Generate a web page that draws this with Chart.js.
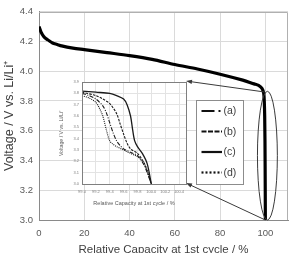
<!DOCTYPE html>
<html>
<head>
<meta charset="utf-8">
<script src="https://cdn.jsdelivr.net/npm/chart.js@4.4.0/dist/chart.umd.min.js"></script>
<style>
  html, body { margin: 0; padding: 0; overflow: hidden; background: #fff; }
  #wrap { position: relative; width: 290px; height: 253px; overflow: hidden; }
  #main { position: absolute; left: 0; top: 0; }
  #inset { position: absolute; left: 50px; top: 75px; }
</style>
</head>
<body>
<div id="wrap">
  <canvas id="main" width="290" height="262"></canvas>
  <canvas id="inset" width="145" height="135"></canvas>
</div>
<script>
// main discharge curve (all four overlap at this scale)
const mainCapacity = [0, 0.5, 1, 2, 3, 4, 6, 8, 10, 15, 20, 30, 40, 50, 60, 70, 80, 90, 95, 97, 98.5, 99.3, 99.7, 99.9, 100.0];
const mainVoltage = [4.30, 4.28, 4.26, 4.235, 4.22, 4.21, 4.19, 4.18, 4.17, 4.155, 4.145, 4.125, 4.105, 4.08, 4.045, 4.015, 3.98, 3.94, 3.915, 3.905, 3.885, 3.85, 3.70, 3.35, 3.0];

// inset: end of discharge, capacity 99.0 - 100.5 %
const seriesLabels = ['(a)', '(b)', '(c)', '(d)'];
const capA = [99.0, 99.1, 99.2, 99.3, 99.35, 99.4, 99.45, 99.5, 99.55, 99.6, 99.7, 99.8, 99.9, 100.0];
const voltA = [3.80, 3.78, 3.75, 3.69, 3.63, 3.54, 3.45, 3.38, 3.34, 3.31, 3.28, 3.25, 3.16, 3.0];
const capB = [99.0, 99.2, 99.3, 99.4, 99.5, 99.55, 99.6, 99.65, 99.7, 99.8, 99.9, 100.0];
const voltB = [3.81, 3.78, 3.75, 3.71, 3.62, 3.53, 3.44, 3.36, 3.31, 3.27, 3.18, 3.0];
const capC = [99.0, 99.2, 99.4, 99.5, 99.6, 99.65, 99.7, 99.73, 99.76, 99.8, 99.87, 99.94, 100.0];
const voltC = [3.82, 3.81, 3.80, 3.78, 3.75, 3.70, 3.60, 3.48, 3.38, 3.33, 3.27, 3.18, 3.0];
const capD = [99.0, 99.1, 99.2, 99.25, 99.3, 99.35, 99.4, 99.45, 99.5, 99.6, 99.7, 99.8, 99.9, 100.0];
const voltD = [3.78, 3.76, 3.72, 3.67, 3.60, 3.48, 3.38, 3.35, 3.33, 3.30, 3.27, 3.24, 3.18, 3.0];

const insetCaps = [capA, capB, capC, capD];
const insetVolts = [voltA, voltB, voltC, voltD];
const insetDash = [[4, 1.5, 1, 1.5], [2.5, 1.2], [], [1, 1]];
const legendDash = [[13, 4, 2, 4], [5, 1.5], [], [2, 2]];

const toPoints = (xs, ys) => xs.map((x, i) => ({ x: x, y: ys[i] }));

Chart.defaults.font.family = "'Liberation Sans', Arial, sans-serif";
Chart.defaults.animation = false;

const insetOffset = { left: 50, top: 75 };

// ---------- inset ----------
const insetFrame = {
  id: 'insetFrame',
  beforeDraw(chart) {
    const { ctx, chartArea: a } = chart;
    ctx.save();
    ctx.fillStyle = '#fff';
    ctx.fillRect(a.left, a.top, a.right - a.left, a.bottom - a.top);
    ctx.restore();
  },
  afterDraw(chart) {
    const { ctx, chartArea: a } = chart;
    ctx.save();
    ctx.strokeStyle = '#7f7f7f';
    ctx.lineWidth = 1;
    ctx.strokeRect(Math.round(a.left) + 0.5, Math.round(a.top) + 0.5, Math.round(a.right - a.left), Math.round(a.bottom - a.top));
    ctx.restore();
  }
};

const insetChart = new Chart(document.getElementById('inset'), {
  type: 'line',
  data: {
    datasets: seriesLabels.map((label, i) => ({
      label: label,
      data: toPoints(insetCaps[i], insetVolts[i]),
      borderColor: '#1a1a1a',
      borderWidth: i === 2 ? 1.3 : 1.1,
      borderDash: insetDash[i],
      pointRadius: 0,
      tension: 0.3,
      fill: false
    }))
  },
  options: {
    responsive: false,
    devicePixelRatio: 1,
    layout: { padding: { top: 7, right: 9, left: 0, bottom: 0 } },
    plugins: { legend: { display: false }, tooltip: { enabled: false } },
    scales: {
      x: {
        type: 'linear', min: 99.0, max: 100.5,
        afterFit(s) { s.height = 26; },
        grid: { color: '#e3e3e3', drawTicks: false },
        border: { display: false },
        ticks: { stepSize: 0.2, includeBounds: false, padding: 5, color: '#7f7f7f', font: { size: 4 },
          maxRotation: 0, autoSkip: false, callback: v => v.toFixed(1) },
        title: { display: true, text: 'Relative Capacity at 1st cycle / %', color: '#595959',
          font: { size: 5.5 }, padding: { top: 0, bottom: 3.7 } }
      },
      y: {
        min: 3.0, max: 3.9,
        afterFit(s) { s.width = 32; },
        grid: { color: '#e3e3e3', drawTicks: false },
        border: { display: false },
        ticks: { stepSize: 0.1, padding: 3, color: '#7f7f7f', font: { size: 4 }, callback: v => v.toFixed(1) },
        title: { display: true, text: 'Voltage / V vs. Li/Li⁺', color: '#595959',
          font: { size: 5.2 }, padding: { top: 8.9, bottom: 0 } }
      }
    }
  },
  plugins: [insetFrame]
});

// ---------- main ----------
const mainFrame = {
  id: 'mainFrame',
  afterDraw(chart) {
    const { ctx, chartArea: a } = chart;
    ctx.save();
    ctx.strokeStyle = '#b0b0b0';
    ctx.lineWidth = 1;
    ctx.beginPath();
    ctx.moveTo(Math.round(a.left), Math.round(a.top) + 0.5);
    ctx.lineTo(Math.round(a.right) - 0.5, Math.round(a.top) + 0.5);
    ctx.lineTo(Math.round(a.right) - 0.5, Math.round(a.bottom));
    ctx.stroke();
    ctx.restore();
  }
};

function arrow(ctx, x1, y1, x2, y2) {
  const ang = Math.atan2(y2 - y1, x2 - x1);
  const len = 6, w = 2.2;
  ctx.beginPath();
  ctx.moveTo(x1, y1);
  ctx.lineTo(x2 - Math.cos(ang) * len * 0.8, y2 - Math.sin(ang) * len * 0.8);
  ctx.stroke();
  ctx.beginPath();
  ctx.moveTo(x2, y2);
  ctx.lineTo(x2 - Math.cos(ang) * len - Math.sin(ang) * w, y2 - Math.sin(ang) * len + Math.cos(ang) * w);
  ctx.lineTo(x2 - Math.cos(ang) * len + Math.sin(ang) * w, y2 - Math.sin(ang) * len - Math.cos(ang) * w);
  ctx.closePath();
  ctx.fill();
}

const callouts = {
  id: 'callouts',
  afterDatasetsDraw(chart) {
    const { ctx, scales: { x, y } } = chart;
    const ia = insetChart.chartArea;
    ctx.save();
    ctx.strokeStyle = '#3a3a3a';
    ctx.fillStyle = '#3a3a3a';
    ctx.lineWidth = 1;
    // ellipse around the end of discharge
    const cx = x.getPixelForValue(100.9);
    const cy = (y.getPixelForValue(3.865) + y.getPixelForValue(3.0)) / 2;
    const ry = (y.getPixelForValue(3.0) - y.getPixelForValue(3.865)) / 2;
    const rx = x.getPixelForValue(105.3) - cx;
    ctx.beginPath();
    ctx.ellipse(cx, cy, rx, ry, 0, 0, Math.PI * 2);
    ctx.stroke();
    // arrows to the inset
    const tipX = insetOffset.left + ia.right;
    arrow(ctx, x.getPixelForValue(99.8), y.getPixelForValue(3.86), tipX, insetOffset.top + ia.top - 1);
    arrow(ctx, x.getPixelForValue(100), y.getPixelForValue(3.0), tipX, insetOffset.top + ia.bottom - 1);
    ctx.restore();
  },
  afterDraw(chart) {
    // legend box for the inset series
    const { ctx } = chart;
    const bx = 196.5, by = 100.5, bw = 47, bh = 84;
    ctx.save();
    ctx.fillStyle = '#fff';
    ctx.fillRect(bx, by, bw, bh);
    ctx.strokeStyle = '#8c8c8c';
    ctx.lineWidth = 1;
    ctx.strokeRect(bx, by, bw, bh);
    ctx.font = "10.5px 'Liberation Sans', Arial, sans-serif";
    ctx.textBaseline = 'middle';
    seriesLabels.forEach((label, i) => {
      const ly = 111 + i * 20.5;
      ctx.strokeStyle = '#111';
      ctx.lineWidth = 2.2;
      ctx.setLineDash(legendDash[i]);
      ctx.beginPath();
      ctx.moveTo(201.5, ly);
      ctx.lineTo(222, ly);
      ctx.stroke();
      ctx.setLineDash([]);
      ctx.fillStyle = '#404040';
      ctx.fillText(label, 223.5, ly + 0.5);
    });
    ctx.restore();
  }
};

new Chart(document.getElementById('main'), {
  type: 'line',
  data: {
    datasets: [{
      label: 'main',
      data: toPoints(mainCapacity, mainVoltage),
      borderColor: '#000',
      borderWidth: 3.2,
      pointRadius: 0,
      tension: 0.3,
      fill: false
    }]
  },
  options: {
    responsive: false,
    devicePixelRatio: 1,
    layout: { padding: { top: 5, right: 2, left: 0, bottom: 0 } },
    plugins: { legend: { display: false }, tooltip: { enabled: false } },
    scales: {
      x: {
        type: 'linear', min: 0, max: 110,
        afterFit(s) { s.height = 42; },
        grid: { color: '#dadada', drawTicks: false },
        border: { color: '#8a8a8a' },
        ticks: { stepSize: 20, includeBounds: false, padding: 8, color: '#595959', font: { size: 9.5 }, maxRotation: 0 },
        title: { display: true, text: 'Relative Capacity at 1st cycle / %', color: '#404040',
          font: { size: 11.5 }, padding: { top: 0, bottom: 5.1 } }
      },
      y: {
        min: 3.0, max: 4.4,
        afterFit(s) { s.width = 39; },
        grid: { color: '#dadada', drawTicks: false },
        border: { color: '#8a8a8a' },
        ticks: { stepSize: 0.2, padding: 6, color: '#595959', font: { size: 9.5 }, callback: v => v.toFixed(1) },
        title: { display: true, text: 'Voltage / V vs. Li/Li⁺', color: '#404040',
          font: { size: 12.5 }, padding: { top: 2, bottom: 0 } }
      }
    }
  },
  plugins: [mainFrame, callouts]
});
</script>
</body>
</html>
